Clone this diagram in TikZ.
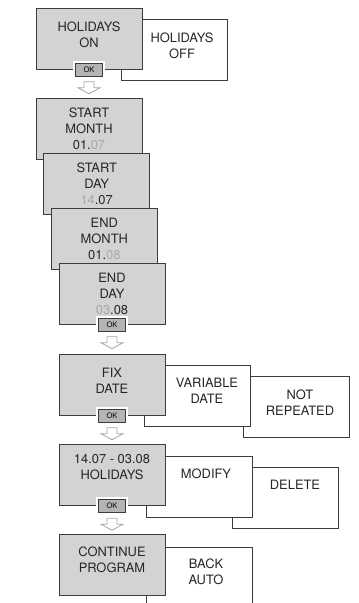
\documentclass[tikz,border=0pt]{standalone}
\usepackage{fontspec}
\setmainfont{TeX Gyre Heros}
\definecolor{boxgray}{HTML}{D3D3D3}
\definecolor{okgray}{HTML}{B4B4B4}
\definecolor{edge}{HTML}{3C3C3C}
\definecolor{dimtext}{HTML}{A8A8A8}
\definecolor{arrowgray}{HTML}{A6A6A6}
\tikzset{
  menu/.style={draw=edge, line width=0.8pt, minimum width=106pt, minimum height=61pt,
    inner sep=0pt, align=center, text=black!85, font=\fontsize{12.9}{16}\selectfont},
  active/.style={menu, fill=boxgray},
  option/.style={menu, fill=white},
  menutext/.style={align=center, inner sep=0pt, text=black!85, font=\fontsize{12.9}{16}\selectfont},
  okbtn/.style={draw=edge, fill=okgray, line width=0.7pt, minimum width=27pt, minimum height=13pt,
    inner sep=0pt, font=\fontsize{7.5}{8}\selectfont, preaction={draw=white, line width=4.5pt}},
  arrowline/.style={draw=arrowgray, fill=white, line width=0.8pt}
}
\begin{document}
\begin{tikzpicture}[x=1pt,y=-1pt]
  \useasboundingbox (0,0) rectangle (359,603);
  \clip (0,0) rectangle (359,603);
  % holidays on / off
  \node[option] (off) at (174,49.5) {};
  \node[menutext] at (182,45.5) {HOLIDAYS\\OFF};
  \node[active] (on) at (89,38.5) {};
  \node[menutext] at (89,35) {HOLIDAYS\\ON};
  \node[okbtn] (ok1) at (on.south) {OK};
  % stack of dates, each one a little to the right
  \node[active] (smonth) at (89,129) {START\\MONTH\\01.\textcolor{dimtext}{07}};
  \node[active] (sday) at (96.7,184) {START\\DAY\\\textcolor{dimtext}{14}.07};
  \node[active] (emonth) at (104.3,239) {END\\MONTH\\01.\textcolor{dimtext}{08}};
  \node[active] (eday) at (112,293.5) {END\\DAY\\\textcolor{dimtext}{03}.08};
  \node[okbtn] (ok5) at (eday.south) {OK};
  % fix / variable / not repeated
  \node[option] (notrep) at (296,407) {};
  \node[menutext] at (300,403) {NOT\\REPEATED};
  \node[option] (variable) at (197,395.5) {};
  \node[menutext] at (207,391) {VARIABLE\\DATE};
  \node[active] (fix) at (112,384.5) {};
  \node[menutext] at (112,380.5) {FIX\\DATE};
  \node[okbtn] (ok6) at (fix.south) {OK};
  % holiday period, modify, delete
  \node[option] (delete) at (285.5,498) {};
  \node[menutext] at (295,485) {DELETE};
  \node[option] (modify) at (199,486.5) {};
  \node[menutext] at (206,474) {MODIFY};
  \node[active] (period) at (112,475) {};
  \node[menutext] at (112,467) {14.07 - 03.08\\HOLIDAYS};
  \node[okbtn] (ok7) at (period.south) {OK};
  % continue / back auto
  \node[option] (back) at (199,577.5) {};
  \node[menutext] at (206,572) {BACK\\AUTO};
  \node[active] (continue) at (112,565) {};
  \node[menutext] at (112,560) {CONTINUE\\PROGRAM};
  % hollow arrows under the OK keys
  \foreach \k in {ok1,ok5,ok6,ok7}
    \draw[arrowline] ([shift={(-5,5.5)}]\k.south) -- ++(10,0) -- ++(0,6) -- ++(6,0)
      -- ++(-11,6) -- ++(-11,-6) -- ++(6,0) -- cycle;
\end{tikzpicture}
\end{document}
